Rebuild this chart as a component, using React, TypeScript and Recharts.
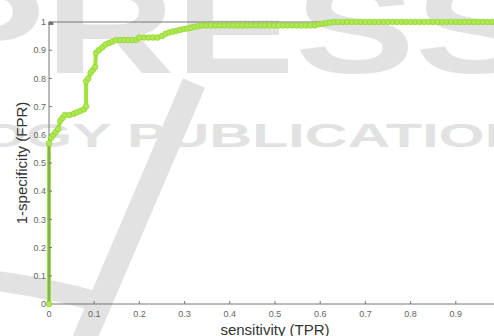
import { LineChart, Line, XAxis, YAxis, Label } from "recharts"

// ROC curve, sensitivity (TPR) on x against 1-specificity (FPR) on y
const sensitivity = [
  0, 0, 0.005, 0.01, 0.015, 0.02, 0.025, 0.03, 0.035, 0.045, 0.055, 0.062, 0.07, 0.077, 0.082,
  0.082, 0.087, 0.092, 0.097, 0.102, 0.104, 0.11, 0.118, 0.125, 0.133, 0.14,
  0.148, 0.157, 0.166, 0.175, 0.184, 0.193, 0.2, 0.21, 0.22, 0.23, 0.24,
  0.25, 0.258, 0.266, 0.274, 0.282, 0.29, 0.298, 0.306, 0.314, 0.322, 0.33, 0.338,
  0.348, 0.358, 0.368, 0.378, 0.388, 0.398, 0.408, 0.418, 0.428, 0.438, 0.448, 0.458, 0.468,
  0.478, 0.488, 0.498, 0.508, 0.518, 0.528, 0.538, 0.548, 0.558, 0.568, 0.578, 0.588,
  0.597, 0.605, 0.613, 0.622, 0.63,
  0.64, 0.65, 0.66, 0.67, 0.68, 0.69, 0.7, 0.71, 0.72, 0.73, 0.74, 0.75, 0.76, 0.77, 0.78, 0.79,
  0.8, 0.81, 0.82, 0.83, 0.84, 0.85, 0.86, 0.87, 0.88, 0.89, 0.9, 0.91, 0.92, 0.93, 0.94, 0.95,
  0.96, 0.97, 0.98, 0.99, 1,
]

const fpr = [
  0, 0.57, 0.59, 0.6, 0.61, 0.62, 0.65, 0.66, 0.67, 0.67, 0.675, 0.68, 0.685, 0.69, 0.7,
  0.79, 0.8, 0.82, 0.83, 0.84, 0.89, 0.9, 0.91, 0.92, 0.925, 0.93,
  0.936, 0.936, 0.936, 0.936, 0.936, 0.936, 0.945, 0.945, 0.945, 0.945, 0.945,
  0.95, 0.958, 0.963, 0.966, 0.969, 0.972, 0.975, 0.977, 0.98, 0.983, 0.985, 0.988,
  0.988, 0.988, 0.988, 0.988, 0.988, 0.988, 0.988, 0.988, 0.988, 0.988, 0.988, 0.988, 0.988,
  0.988, 0.988, 0.988, 0.988, 0.988, 0.988, 0.988, 0.988, 0.988, 0.988, 0.988, 0.988,
  0.992, 0.994, 0.996, 0.998, 1,
  1, 1, 1, 1, 1, 1, 1, 1, 1, 1, 1, 1, 1, 1, 1, 1,
  1, 1, 1, 1, 1, 1, 1, 1, 1, 1, 1, 1, 1, 1, 1, 1,
  1, 1, 1, 1, 1,
]

const xTicks = [0, 0.1, 0.2, 0.3, 0.4, 0.5, 0.6, 0.7, 0.8, 0.9, 1]
const yTicks = [0, 0.1, 0.2, 0.3, 0.4, 0.5, 0.6, 0.7, 0.8, 0.9, 1]

const rocData = sensitivity.map((x, i) => ({ x, y: fpr[i] }))

const font = "'Liberation Sans', Arial, sans-serif"
const green = "#a0e23c"
const axisColor = "#767676"
const tickStyle = { fill: "#666", fontSize: 9, fontFamily: font }

// faint publisher stamp sitting behind the plot
function Watermark() {
  const wm = "#e2e2e2"
  return (
    <svg width={494} height={336} style={{ position: "absolute", left: 0, top: 0 }}>
      <path d="M 194 83 L 84 340" stroke={wm} strokeWidth={24} fill="none" />
      <path d="M -10 280 Q 50 288 98 302" stroke={wm} strokeWidth={20} fill="none" />
      <text
        x={-75}
        y={73}
        fontSize={130}
        fontWeight="bold"
        fontFamily={font}
        fill={wm}
        textLength={610}
        lengthAdjust="spacingAndGlyphs"
      >
        PRESS
      </text>
      <text
        x={-20}
        y={147}
        fontSize={33}
        fontWeight="bold"
        fontFamily={font}
        fill={wm}
        textLength={587}
        lengthAdjust="spacingAndGlyphs"
      >
        OGY PUBLICATIONS
      </text>
    </svg>
  )
}

export default function App() {
  return (
    <div
      style={{
        position: "fixed",
        left: 0,
        top: 0,
        width: 494,
        height: 336,
        overflow: "hidden",
        background: "#fff",
      }}
    >
      <Watermark />
      <div style={{ position: "absolute", left: 0, top: 0 }}>
        <LineChart width={520} height={336} data={rocData} margin={{ top: 0, right: 19, bottom: 0, left: 0 }}>
          <XAxis
            dataKey="x"
            type="number"
            domain={[0, 1]}
            ticks={xTicks}
            interval={0}
            height={32}
            stroke={axisColor}
            tickSize={-3}
            tickMargin={10}
            tick={tickStyle}
            tickFormatter={(v: number) => String(v)}
          >
            <Label
              content={() => (
                <text x={275} y={335} textAnchor="middle" fontSize={15} fontFamily={font} fill="#333">
                  sensitivity (TPR)
                </text>
              )}
            />
          </XAxis>
          <XAxis
            xAxisId="top"
            orientation="top"
            type="number"
            domain={[0, 1]}
            ticks={xTicks}
            interval={0}
            height={22}
            stroke={axisColor}
            tickSize={-3}
            tick={tickStyle}
            tickFormatter={() => ""}
          />
          <YAxis
            type="number"
            domain={[0, 1]}
            ticks={yTicks}
            interval={0}
            width={49}
            stroke={axisColor}
            tickSize={-3}
            tickMargin={6}
            tick={tickStyle}
            tickFormatter={(v: number) => String(v)}
          >
            <Label
              content={() => (
                <text
                  x={21}
                  y={163}
                  transform="rotate(-90 21 163)"
                  textAnchor="middle"
                  dominantBaseline="central"
                  fontSize={15}
                  fontFamily={font}
                  fill="#333"
                >
                  1-specificity (FPR)
                </text>
              )}
            />
          </YAxis>
          <Line
            type="linear"
            dataKey="y"
            stroke={green}
            strokeWidth={4}
            dot={{ r: 2.8, fill: "#aee852", stroke: "#92d62e", strokeWidth: 0.8 }}
            isAnimationActive={false}
          />
        </LineChart>
      </div>
    </div>
  )
}
